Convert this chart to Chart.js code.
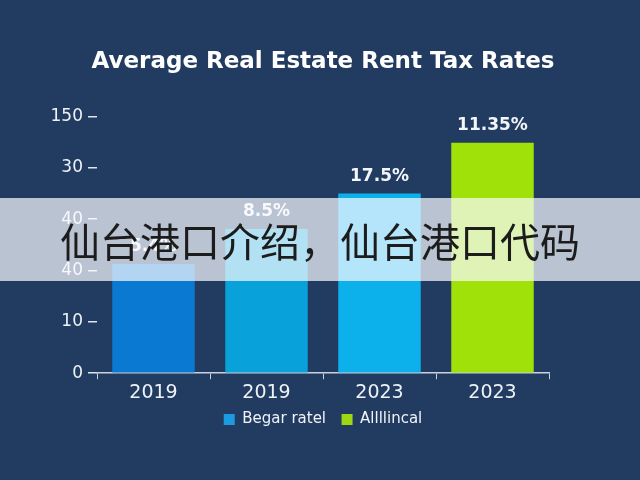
<!DOCTYPE html>
<html>
<head>
<meta charset="utf-8">
<script src="https://cdn.jsdelivr.net/npm/chart.js@4.4.1/dist/chart.umd.min.js"></script>
<style>
  html, body { margin: 0; padding: 0; background: #223b61; }
  #wrap { position: relative; width: 640px; height: 480px; overflow: hidden; background: #223b61; }
  canvas { position: absolute; left: 0; top: 0; }
  #band {
    position: absolute; left: 0; top: 198px; width: 640px; height: 83px;
    background: rgba(250, 251, 255, 0.71);
    display: flex; align-items: center; justify-content: center;
    font-family: "Noto Sans CJK SC", sans-serif; font-size: 40px; color: #1c1c1c;
  }
</style>
</head>
<body>
<div id="wrap">
  <canvas id="c" width="640" height="480"></canvas>
  <div id="band">仙台港口介绍，仙台港口代码</div>
</div>
<script>
// Data (y values in tick-position units, since tick labels are irregular)
const categories = ["2019", "2019", "2023", "2023"];
const tickLabels = ["0", "10", "40", "40", "30", "150"];
const seriesNames = ["Begar ratel", "Allllincal"];
const seriesA = [2.13, 2.81, 3.5, null];
const seriesB = [null, null, null, 4.49];
const valueLabels = ["5.4%", "8.5%", "17.5%", "11.35%"];
const barColors = ["#0a79d2", "#08a1d9", "#0cb1ec", "#a0e10a"];
const legendColors = ["#1c9be3", "#9fd812"];

const fontFamily = "'DejaVu Sans', sans-serif";

const valueLabelPlugin = {
  id: 'valueLabels',
  afterDatasetsDraw(chart) {
    const ctx = chart.ctx;
    ctx.save();
    ctx.font = "bold 17px " + fontFamily;
    ctx.fillStyle = "#f2f5f9";
    ctx.textAlign = "center";
    ctx.textBaseline = "middle";
    chart.data.datasets.forEach((ds, di) => {
      const meta = chart.getDatasetMeta(di);
      meta.data.forEach((bar, i) => {
        if (ds.data[i] == null) return;
        ctx.fillText(valueLabels[i], bar.x, bar.y - 17);
      });
    });
    ctx.restore();
  }
};

new Chart(document.getElementById('c'), {
  type: 'bar',
  data: {
    labels: categories,
    datasets: [
      { label: seriesNames[0], data: seriesA, backgroundColor: barColors, barPercentage: 0.73, categoryPercentage: 1 },
      { label: seriesNames[1], data: seriesB, backgroundColor: barColors, barPercentage: 0.73, categoryPercentage: 1 }
    ]
  },
  options: {
    responsive: false,
    animation: false,
    devicePixelRatio: 1,
    layout: { padding: { left: 6, right: 0, top: 0, bottom: 43 } },
    plugins: {
      title: {
        display: true,
        text: "Average Real Estate Rent Tax Rates",
        color: "#ffffff",
        font: { family: fontFamily, size: 23, weight: 'bold' },
        padding: { top: 48, bottom: 41 }
      },
      legend: {
        position: 'bottom',
        labels: {
          color: "#f0f3f7",
          font: { family: fontFamily, size: 15 },
          boxWidth: 11, boxHeight: 11,
          padding: 6,
          generateLabels() {
            return seriesNames.map((n, i) => ({
              text: i === 0 ? n + "  " : n,
              fillStyle: legendColors[i], strokeStyle: legendColors[i], lineWidth: 0, fontColor: "#f0f3f7", datasetIndex: i
            }));
          }
        }
      },
      tooltip: { enabled: false }
    },
    scales: {
      x: {
        stacked: true,
        grid: { display: true, drawOnChartArea: false, drawTicks: true, tickLength: 6, color: "#c9d2de" },
        border: { display: true, color: "#c9d2de", width: 1.5 },
        ticks: { color: "#eef2f7", font: { family: fontFamily, size: 19 }, padding: 2 }
      },
      y: {
        stacked: true,
        min: 0, max: 5,
        afterFit(scale) { scale.width = 91; },
        grid: { display: true, drawOnChartArea: false, drawTicks: true, tickLength: 9, color: "#dfe5ee", lineWidth: 1.5 },
        border: { display: false },
        ticks: {
          stepSize: 1,
          color: "#eef2f7",
          font: { family: fontFamily, size: 17 },
          padding: 5,
          callback: (v, i) => tickLabels[i]
        }
      },
      yRight: {
        position: 'right',
        min: 0, max: 5,
        afterFit(scale) { scale.width = 91; },
        grid: { display: false },
        border: { display: false },
        ticks: { display: false }
      }
    }
  },
  plugins: [valueLabelPlugin]
});
</script>
</body>
</html>
